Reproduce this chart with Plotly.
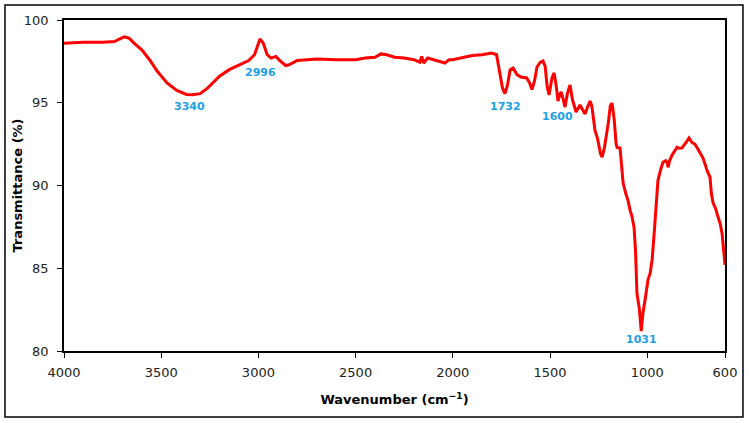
import plotly.graph_objects as go

wavenumber = [4000, 3900, 3800, 3740, 3715, 3690, 3665, 3640, 3600, 3560, 3520, 3470, 3420, 3370, 3340, 3300,
              3260, 3200, 3150, 3100, 3050, 3020, 3005, 2992, 2975, 2955, 2935, 2910, 2890, 2860, 2840, 2800,
              2750, 2700, 2600, 2500, 2450, 2400, 2370, 2340, 2300, 2250, 2200, 2170, 2160, 2150, 2130, 2100,
              2060, 2040, 2020, 2000, 1960, 1900, 1850, 1800, 1775, 1760, 1745, 1732, 1720, 1705, 1690, 1670,
              1650, 1620, 1605, 1593, 1580, 1567, 1550, 1536, 1525, 1515, 1505, 1490, 1479, 1468, 1459, 1450,
              1443, 1432, 1423, 1410, 1397, 1385, 1366, 1346, 1335, 1320, 1305, 1294, 1285, 1269, 1255, 1240,
              1232, 1220, 1200, 1190, 1181, 1170, 1160, 1155, 1140, 1130, 1124, 1110, 1099, 1088, 1080, 1068,
              1060, 1053, 1040, 1031, 1022, 1011, 1000, 996, 985, 975, 965, 955, 945, 930, 919, 905, 898, 893,
              885, 872, 860, 847, 835, 821, 800, 785, 770, 755, 744, 730, 713, 700, 692, 677, 670, 661, 655,
              648, 641, 633, 625, 615, 608, 600]
transmittance = [98.6, 98.65, 98.65, 98.7, 98.85, 98.98, 98.9, 98.6, 98.2, 97.6, 96.9, 96.2, 95.75, 95.5, 95.48, 95.55,
                 95.9, 96.6, 97.0, 97.3, 97.55, 97.9, 98.4, 98.85, 98.6, 97.9, 97.7, 97.8, 97.55, 97.25, 97.3, 97.55,
                 97.6, 97.65, 97.6, 97.6, 97.7, 97.75, 97.95, 97.9, 97.75, 97.7, 97.6, 97.45, 97.8, 97.4, 97.7, 97.6,
                 97.45, 97.4, 97.6, 97.6, 97.7, 97.85, 97.9, 98.0, 97.9, 97.0, 95.9, 95.55, 96.0, 97.0, 97.1, 96.7,
                 96.55, 96.5, 96.2, 95.8, 96.3, 97.16, 97.45, 97.52, 97.2, 96.0, 95.47, 96.5, 96.8, 96.0, 95.1, 95.5,
                 95.65, 95.2, 94.74, 95.6, 96.07, 95.2, 94.44, 94.86, 94.6, 94.32, 94.8, 95.1, 94.8, 93.35, 92.8, 91.9,
                 91.72, 92.3, 93.8, 94.8, 94.98, 94.0, 92.5, 92.3, 92.27, 91.0, 90.15, 89.5, 89.1, 88.5, 88.2, 87.5,
                 86.0, 83.5, 82.5, 81.2, 82.3, 83.1, 84.0, 84.3, 84.7, 85.5, 87.0, 88.5, 90.3, 91.0, 91.4, 91.5, 91.4, 91.1,
                 91.5, 91.84, 92.1, 92.3, 92.25, 92.27, 92.6, 92.87, 92.6, 92.5, 92.3, 92.0, 91.66, 91.2, 90.9, 90.5, 89.5, 88.94, 88.8,
                 88.6, 88.3, 88.0, 87.7, 87.1, 86.0, 85.2]

peak_labels = ["3340", "2996", "1732", "1600", "1031"]
label_x = [3352, 2990, 1731, 1464, 1032]
label_y = [94.8, 96.8, 94.8, 94.14, 80.67]

x_ticks = [4000, 3500, 3000, 2500, 2000, 1500, 1000, 600]
y_ticks = [80, 85, 90, 95, 100]

fig = go.Figure()
fig.add_trace(go.Scatter(x=wavenumber, y=transmittance, mode="lines",
                         line=dict(color="#FF0000", width=3), showlegend=False))

for t, xv, yv in zip(peak_labels, label_x, label_y):
    fig.add_annotation(x=xv, y=yv, text="<b>" + t + "</b>", showarrow=False,
                       font=dict(family="DejaVu Sans", size=11, color="#1E9FE3"))

fig.add_annotation(x=-0.0696, y=0.5, xref="paper", yref="paper", xanchor="center", yanchor="middle",
                   text="<b>Transmittance (%)</b>", textangle=-90, showarrow=False,
                   font=dict(family="DejaVu Sans", size=13, color="black"))

fig.add_shape(type="rect", xref="paper", yref="paper",
              x0=-0.0893, x1=1.0272, y0=-0.1994, y1=1.0453,
              line=dict(color="black", width=1.5), fillcolor="rgba(0,0,0,0)")

fig.update_xaxes(range=[4000, 600], tickvals=x_ticks, ticktext=[str(v) for v in x_ticks],
                 ticks="outside", ticklen=5, tickcolor="black", showline=True, linecolor="black",
                 linewidth=1.5, mirror=True, showgrid=False, zeroline=False, ticklabelstandoff=4,
                 tickfont=dict(family="DejaVu Sans", size=13, color="#222"),
                 title=dict(text="<b>Wavenumber (cm<sup>−1</sup>)</b>", standoff=16,
                            font=dict(family="DejaVu Sans", size=13, color="black")))
fig.update_yaxes(range=[80, 100], tickvals=y_ticks, ticks="outside", ticklen=5, tickcolor="black",
                 showline=True, linecolor="black", linewidth=1.5, mirror=True, showgrid=False,
                 zeroline=False, ticklabelstandoff=6,
                 tickfont=dict(family="DejaVu Sans", size=13, color="#222"))

fig.update_layout(width=749, height=423, margin=dict(l=64, r=24, t=20, b=72),
                  plot_bgcolor="white", paper_bgcolor="white")

fig.write_html("out.html")
